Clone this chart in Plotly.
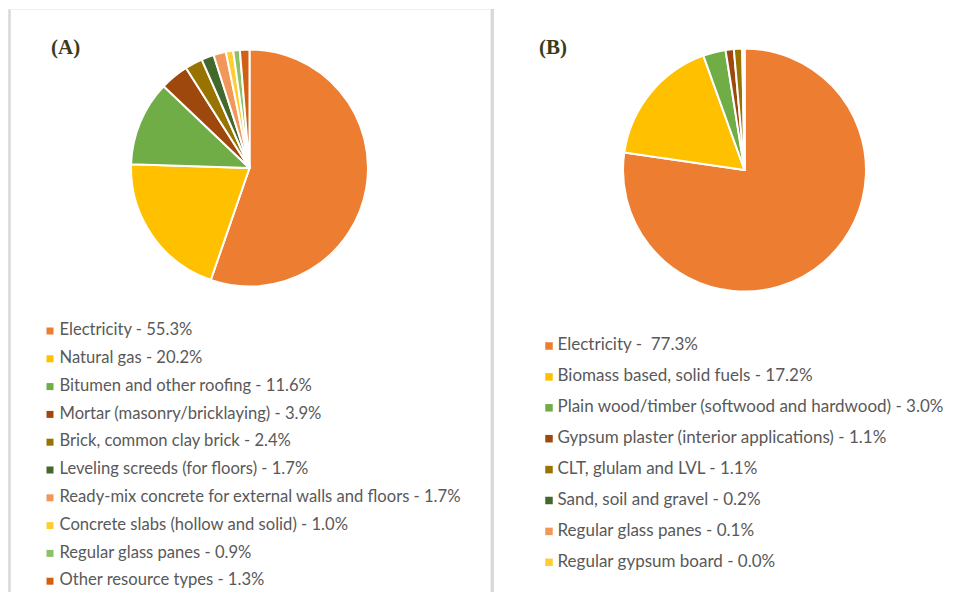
import plotly.graph_objects as go

# Panel A: resource types
labels_a = [
    "Electricity", "Natural gas", "Bitumen and other roofing",
    "Mortar (masonry/bricklaying)", "Brick, common clay brick",
    "Leveling screeds (for floors)",
    "Ready-mix concrete for external walls and floors",
    "Concrete slabs (hollow and solid)", "Regular glass panes",
    "Other resource types",
]
values_a = [55.3, 20.2, 11.6, 3.9, 2.4, 1.7, 1.7, 1.0, 0.9, 1.3]

# Panel B: resource types
labels_b = [
    "Electricity", "Biomass based, solid fuels",
    "Plain wood/timber (softwood and hardwood)",
    "Gypsum plaster (interior applications)", "CLT, glulam and LVL",
    "Sand, soil and gravel", "Regular glass panes", "Regular gypsum board",
]
values_b = [77.3, 17.2, 3.0, 1.1, 1.1, 0.2, 0.1, 0.0]

colors = ["#ED7D31", "#FFC000", "#70AD47", "#9E480E", "#997300",
          "#43682B", "#F1975A", "#FFCD33", "#8CC168", "#D26012"]

W, H = 965, 592
TXT = "#595959"
FONT = "Lato"


def dom(cx, cy, r):
    return dict(x=[(cx - r) / W, (cx + r) / W],
                y=[1 - (cy + r) / H, 1 - (cy - r) / H])


fig = go.Figure()

fig.add_trace(go.Pie(
    labels=labels_a, values=values_a, sort=False, direction="clockwise",
    rotation=0, textinfo="none", showlegend=False,
    marker=dict(colors=colors[:len(values_a)], line=dict(color="white", width=2)),
    domain=dom(249.5, 168, 118.5),
))
fig.add_trace(go.Pie(
    labels=labels_b, values=values_b, sort=False, direction="clockwise",
    rotation=0, textinfo="none", showlegend=False,
    marker=dict(colors=colors[:len(values_b)], line=dict(color="white", width=2)),
    domain=dom(744.5, 170, 121.5),
))


def legend_rows(labels, values, x_mark, x_text, y0, step, fsize, msize, seps):
    ys = [y0 + i * step for i in range(len(labels))]
    texts = [f"{n}{s}{v:.1f}%" for n, v, s in zip(labels, values, seps)]
    fig.add_trace(go.Scatter(
        x=[x_mark] * len(ys), y=ys, mode="markers", showlegend=False,
        hoverinfo="skip",
        marker=dict(symbol="square", size=msize, color=colors[:len(ys)],
                    line=dict(width=0)),
    ))
    fig.add_trace(go.Scatter(
        x=[x_text] * len(ys), y=ys, mode="text", text=texts,
        textposition="middle right", showlegend=False, hoverinfo="skip",
        textfont=dict(family=FONT, size=fsize, color=TXT),
    ))


seps_a = [" - "] * len(labels_a)
seps_b = [" - \u00a0"] + [" - "] * (len(labels_b) - 1)
legend_rows(labels_a, values_a, 50, 59.5, 331, 27.8, 16.6, 7, seps_a)
legend_rows(labels_b, values_b, 549, 557.5, 346, 30.9, 17, 7.5, seps_b)

fig.update_xaxes(range=[0, W], visible=False, fixedrange=True)
fig.update_yaxes(range=[H, 0], visible=False, fixedrange=True)

line_c = "#D9D9D9"
fig.update_layout(
    width=W, height=H,
    margin=dict(l=0, r=0, t=0, b=0),
    paper_bgcolor="white", plot_bgcolor="rgba(0,0,0,0)",
    shapes=[
        dict(type="line", xref="x", yref="y", x0=9.5, x1=9.5, y0=9, y1=H,
             line=dict(color=line_c, width=2.5)),
        dict(type="line", xref="x", yref="y", x0=9.5, x1=491, y0=9.5, y1=9.5,
             line=dict(color="#F0F0F0", width=1)),
        dict(type="line", xref="x", yref="y", x0=490.5, x1=490.5, y0=9, y1=H,
             line=dict(color="#EFEFEF", width=1)),
        dict(type="line", xref="x", yref="y", x0=492.5, x1=492.5, y0=9, y1=H,
             line=dict(color=line_c, width=3)),
    ],
    annotations=[
        dict(text="<b>(A)</b>", x=49, y=47, xref="x", yref="y",
             xanchor="left", yanchor="middle", showarrow=False,
             font=dict(family="Liberation Serif", size=21, color="#3B3B1C")),
        dict(text="<b>(B)</b>", x=537, y=47, xref="x", yref="y",
             xanchor="left", yanchor="middle", showarrow=False,
             font=dict(family="Liberation Serif", size=21, color="#3B3B1C")),
    ],
)

fig.write_html("out.html")
